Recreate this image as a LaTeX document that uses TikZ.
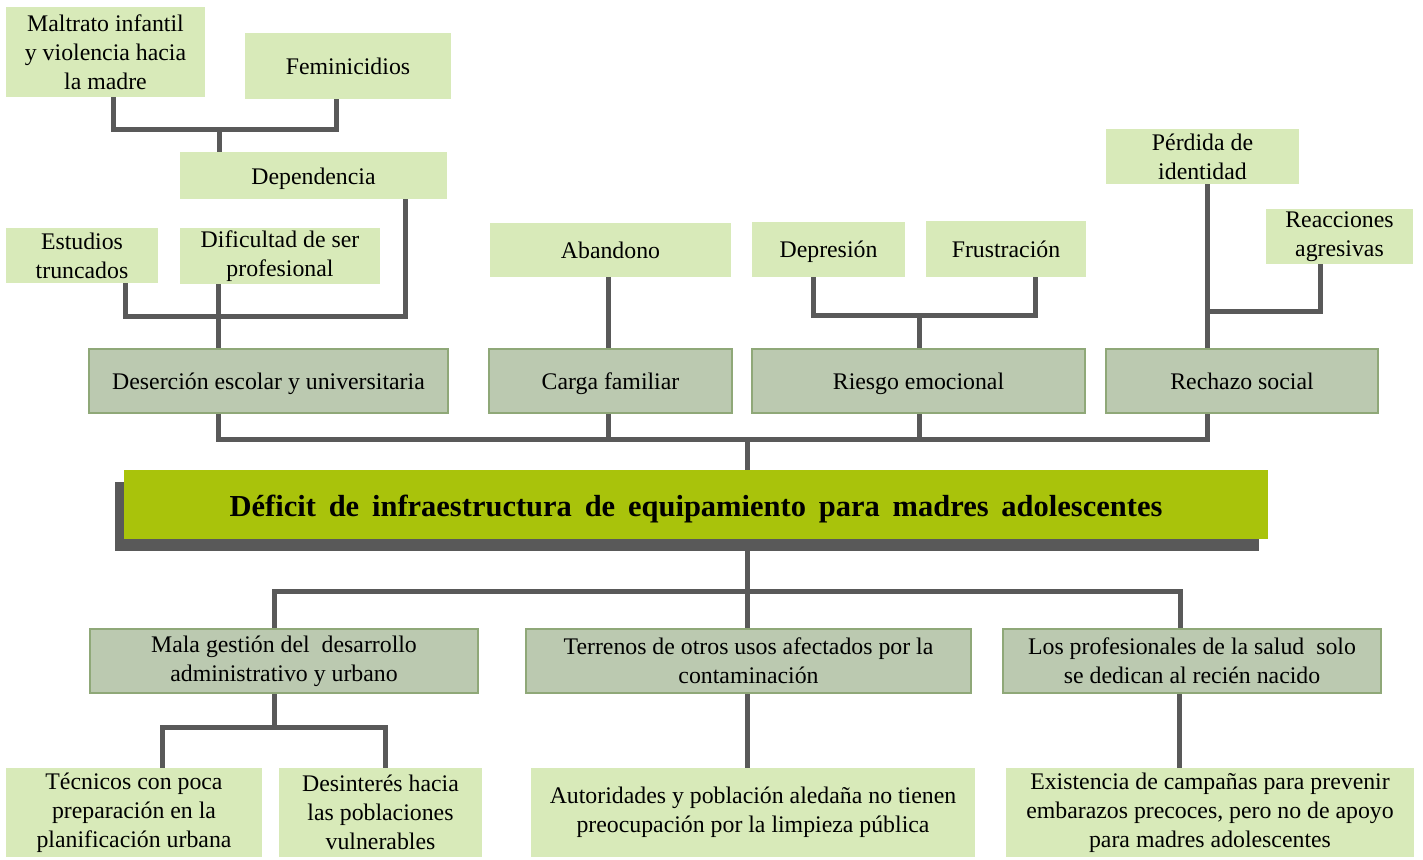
\documentclass[tikz,border=0pt]{standalone}
\usepackage{fontspec}
\setmainfont{Liberation Serif}
\usetikzlibrary{shadows}
\definecolor{leaf}{HTML}{D8EAB9}
\definecolor{midfill}{HTML}{BBC9B0}
\definecolor{midline}{HTML}{8FA878}
\definecolor{mainfill}{HTML}{A9C30B}
\definecolor{conn}{HTML}{595959}
\tikzset{
  every node/.style={font=\fontsize{23.8}{29}\selectfont, align=center, inner sep=0pt, text=black},
  leafbox/.style={fill=leaf, draw=none},
  midbox/.style={fill=midfill, draw=midline, line width=2pt},
  mainbox/.style={fill=mainfill, draw=none, font=\fontsize{30.5}{34}\selectfont\bfseries,
    drop shadow={shadow xshift=-9pt, shadow yshift=-12pt, fill=conn, opacity=1}},
  link/.style={draw=conn, line width=5pt, line join=miter},
}
\newcommand{\widesp}{\spaceskip=0.42em\relax}
\newcommand{\lowr}[2]{\raisebox{-#1}[\height][\depth]{#2}}
\newcommand{\bx}[6]{\node[#1, minimum width=#4, minimum height=#5] (#2) at (#3) {#6};}
\begin{document}
\begin{tikzpicture}[x=1pt,y=-1pt]
\useasboundingbox (0,0) rectangle (1423,859);
% nodes
\bx{leafbox}{mal}{105.5,52}{199}{90}{Maltrato infantil\\y violencia hacia\\la madre}
\bx{leafbox}{fem}{348,66}{206}{66}{Feminicidios}
\bx{leafbox}{dep}{313.5,175.5}{267}{47}{\lowr{3pt}{Dependencia}}
\bx{leafbox}{est}{82,255.5}{152}{55}{Estudios\\truncados}
\bx{leafbox}{dif}{280,256}{200}{56}{Dificultad de ser\\profesional}
\bx{midbox}{des}{268.5,381}{359}{64}{\lowr{3pt}{Deserción escolar y universitaria}}
\bx{leafbox}{aba}{610.5,250}{241}{54}{Abandono}
\bx{midbox}{car}{610.5,381}{243}{64}{\lowr{3pt}{Carga familiar}}
\bx{leafbox}{dpr}{828.5,249.5}{153}{55}{\lowr{2pt}{Depresión}}
\bx{leafbox}{fru}{1006,249}{160}{56}{Frustración}
\bx{midbox}{rie}{918.5,381}{333}{64}{\lowr{3pt}{Riesgo emocional}}
\bx{leafbox}{per}{1202.5,156.5}{193}{55}{Pérdida de\\identidad}
\bx{leafbox}{rea}{1339.5,236.5}{147}{55}{Reacciones\\agresivas}
\bx{midbox}{rec}{1242,381}{272}{64}{Rechazo social}
\bx{mainbox}{main}{696,504.5}{1144}{69}{\lowr{5pt}{\widesp Déficit de infraestructura de equipamiento para madres adolescentes}}
\bx{midbox}{mga}{284,661}{388}{64}{Mala gestión del\ \ desarrollo\\administrativo y urbano}
\bx{midbox}{ter}{748.5,661}{445}{64}{Terrenos de otros usos afectados por la\\contaminación}
\bx{midbox}{pro}{1192,661}{378}{64}{Los profesionales de la salud\ \ solo\\se dedican al recién nacido}
\bx{leafbox}{tec}{134,812.5}{256}{89}{Técnicos con poca\\preparación en la\\planificación urbana}
\bx{leafbox}{dsi}{380.5,812.5}{203}{89}{Desinterés hacia\\las poblaciones\\vulnerables}
\bx{leafbox}{aut}{753,812.5}{444}{89}{Autoridades y población aledaña no tienen\\preocupación por la limpieza pública}
\bx{leafbox}{exi}{1210,812.5}{408}{89}{Existencia de campañas para prevenir\\embarazos precoces, pero no de apoyo\\para madres adolescentes}
% junction coordinates
\coordinate (xa) at (113,129);
\coordinate (xb) at (336,129);
\coordinate (xj) at (219,129);
\coordinate (e1) at (125,316);
\coordinate (e2) at (405,316);
\coordinate (e3) at (218,316);
\coordinate (a1) at (608,300);
\coordinate (d1) at (813,315);
\coordinate (d2) at (1035,315);
\coordinate (d3) at (919,315);
\coordinate (r1) at (1207,311);
\coordinate (r2) at (1320,311);
\coordinate (b1) at (218,439);
\coordinate (b2) at (608,439);
\coordinate (b3) at (919,439);
\coordinate (b4) at (1207,439);
\coordinate (bc) at (747,439);
\coordinate (m0) at (747,551);
\coordinate (m1) at (747,591);
\coordinate (ml) at (274,591);
\coordinate (mr) at (1180,591);
\coordinate (g1) at (274,727);
\coordinate (g2) at (162,727);
\coordinate (g3) at (385,727);
\coordinate (t1) at (747,727);
\coordinate (p1) at (1179,727);
% connectors
\draw[link] (mal.south -| xa) -- (xa) -- (xb) -- (fem.south -| xb);
\draw[link] (xj) -- (dep.north -| xj);
\draw[link] (est.south -| e1) -- (e1) -- (e2) -- (dep.south -| e2);
\draw[link] (dif.south -| e3) -- (des.north -| e3);
\draw[link] (aba.south -| a1) -- (car.north -| a1);
\draw[link] (dpr.south -| d1) -- (d1) -- (d2) -- (fru.south -| d2);
\draw[link] (d3) -- (rie.north -| d3);
\draw[link] (per.south -| r1) -- (rec.north -| r1);
\draw[link] (rea.south -| r2) -- (r2) -- (r1);
\draw[link] (des.south -| b1) -- (b1) -- (b4) -- (rec.south -| b4);
\draw[link] (car.south -| b2) -- (b2);
\draw[link] (rie.south -| b3) -- (b3);
\draw[link] (bc) -- (main.north -| bc);
\draw[link] (m0) -- (m1);
\draw[link] (mga.north -| ml) -- (ml) -- (mr) -- (pro.north -| mr);
\draw[link] (m1) -- (ter.north -| m1);
\draw[link] (mga.south -| g1) -- (g1);
\draw[link] (tec.north -| g2) -- (g2) -- (g3) -- (dsi.north -| g3);
\draw[link] (ter.south -| t1) -- (aut.north -| t1);
\draw[link] (pro.south -| p1) -- (exi.north -| p1);
\end{tikzpicture}
\end{document}
